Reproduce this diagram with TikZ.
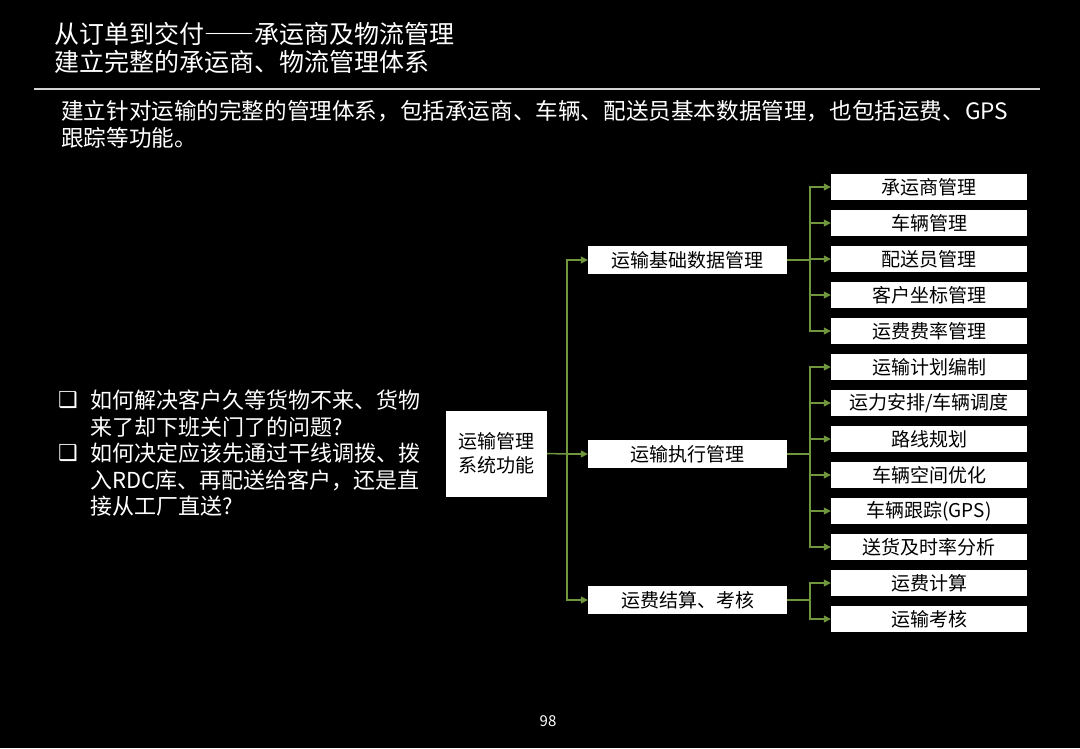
\documentclass[tikz,border=0pt]{standalone}
\usepackage{fontspec}
\setmainfont{Noto Sans CJK SC}
\newfontfamily\dejavu{DejaVu Sans}
\usetikzlibrary{arrows.meta}
\definecolor{linkgreen}{RGB}{112,150,62}
\definecolor{rulegray}{RGB}{210,210,210}

\begin{document}
\begin{tikzpicture}[x=1pt,y=-1pt,>={Triangle[length=7pt,width=7pt]},
	  txt/.style={text=white,inner sep=0pt,align=left,anchor=west},
	  qbox/.style={text=white,inner sep=0pt,font=\dejavu\fontsize{22}{24}\selectfont},
	  box/.style={fill=white,text=black,inner sep=0pt,font=\fontsize{19}{24}\selectfont},
	  midbox/.style={box,minimum width=199pt,minimum height=28pt},
	  leafbox/.style={box,minimum width=196pt,minimum height=26pt},
	  link/.style={linkgreen,line width=1.5pt}]
	  \fill[black] (0,0) rectangle (1080,748);
	  \useasboundingbox (0,0) rectangle (1080,748);
	  % heading
	  \node[txt,font=\fontsize{25}{28}\selectfont] (title) at (54,48) {从订单到交付{\addfontfeatures{RawFeature=+fwid}——}承运商及物流管理\\建立完整的承运商、物流管理体系};
	  \draw[rulegray,line width=2pt] (34,89) -- (1040,89);
	  \node[txt,font=\fontsize{22.6}{27}\selectfont] (intro) at (61,124.5) {建立针对运输的完整的管理体系，包括承运商、车辆、配送员基本数据管理，也包括运费、GPS\\跟踪等功能。};
	  % questions
	  \node[qbox] (q1box) at (68,400) {❑};
	  \node[qbox] (q2box) at (68,453) {❑};
	  \node[txt,font=\fontsize{22}{26.6}\selectfont] (q1) at (90,413.5) {如何解决客户久等货物不来、货物\\来了却下班关门了的问题?};
	  \node[txt,font=\fontsize{22}{26.6}\selectfont] (q2) at (90,479.6) {如何决定应该先通过干线调拨、拨\\入RDC库、再配送给客户，还是直\\接从工厂直送?};
	  % tree
	  \node[box,minimum width=101pt,minimum height=86pt,align=center] (root) at (496.5,453.5) {运输管理\\系统功能};
	  \node[midbox] (m1) at (687.5,260) {运输基础数据管理};
	  \node[midbox] (m2) at (687.5,454) {运输执行管理};
	  \node[midbox] (m3) at (687.5,600) {运费结算、考核};
	  \node[leafbox] (l1) at (929,187) {承运商管理};
	  \node[leafbox] (l2) at (929,223) {车辆管理};
	  \node[leafbox] (l3) at (929,259) {配送员管理};
	  \node[leafbox] (l4) at (929,295) {客户坐标管理};
	  \node[leafbox] (l5) at (929,331) {运费费率管理};
	  \node[leafbox] (l6) at (929,367) {运输计划编制};
	  \node[leafbox] (l7) at (929,403) {运力安排/车辆调度};
	  \node[leafbox] (l8) at (929,439) {路线规划};
	  \node[leafbox] (l9) at (929,475) {车辆空间优化};
	  \node[leafbox] (l10) at (929,511) {车辆跟踪(GPS)};
	  \node[leafbox] (l11) at (929,547) {送货及时率分析};
	  \node[leafbox] (l12) at (929,583) {运费计算};
	  \node[leafbox] (l13) at (929,619) {运输考核};
	  \coordinate (t) at (567,454);
	  \coordinate (b1) at (810,260);
	  \coordinate (b2) at (810,454);
	  \coordinate (b3) at (810,600);
	  \draw[link] (root.east) -- (t);
	  \draw[link,->] (t) |- (m1.west);
	  \draw[link,->] (t) |- (m2.west);
	  \draw[link,->] (t) |- (m3.west);
	  \draw[link] (m1.east) -- (b1);
	  \draw[link,->] (b1) |- (l1.west);
	  \draw[link,->] (b1) |- (l2.west);
	  \draw[link,->] (b1) |- (l3.west);
	  \draw[link,->] (b1) |- (l4.west);
	  \draw[link,->] (b1) |- (l5.west);
	  \draw[link] (m2.east) -- (b2);
	  \draw[link,->] (b2) |- (l6.west);
	  \draw[link,->] (b2) |- (l7.west);
	  \draw[link,->] (b2) |- (l8.west);
	  \draw[link,->] (b2) |- (l9.west);
	  \draw[link,->] (b2) |- (l10.west);
	  \draw[link,->] (b2) |- (l11.west);
	  \draw[link] (m3.east) -- (b3);
	  \draw[link,->] (b3) |- (l12.west);
	  \draw[link,->] (b3) |- (l13.west);
	  % page number
	  \node[text=white,inner sep=0pt,font=\fontsize{15}{16}\selectfont] (page) at (548,721) {98};
	\end{tikzpicture}
\end{document}
